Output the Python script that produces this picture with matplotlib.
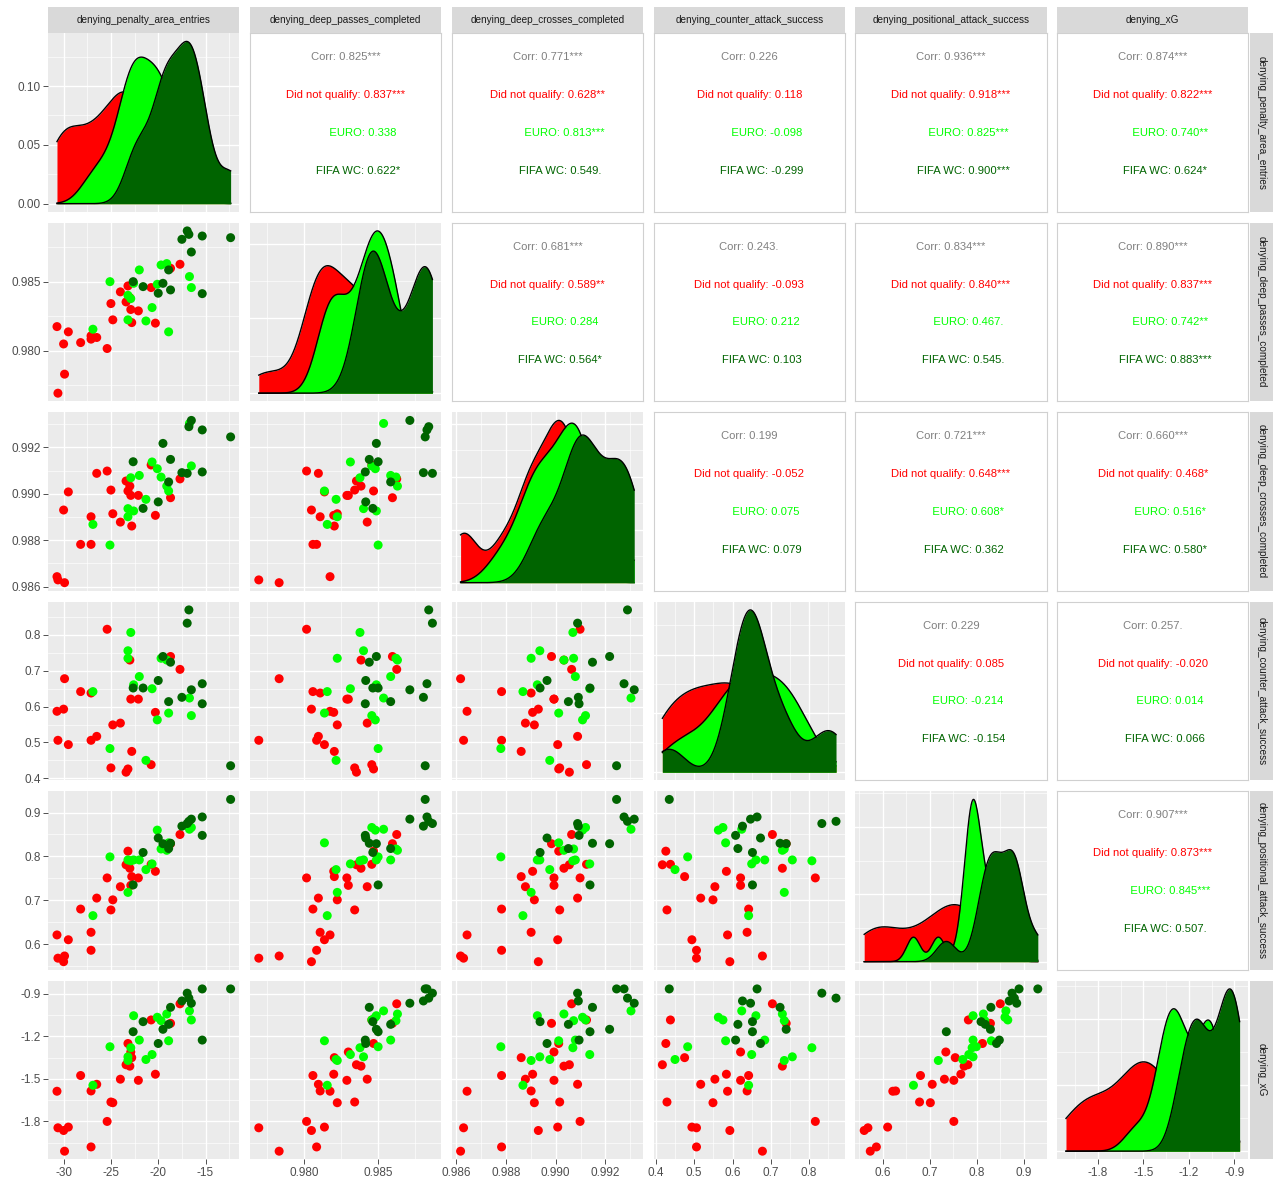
import numpy as np
import matplotlib
matplotlib.use("Agg")
import matplotlib.pyplot as plt
from matplotlib.ticker import MaxNLocator

plt.rcParams['font.family'] = ['Liberation Sans', 'DejaVu Sans']

variables = ['denying_penalty_area_entries', 'denying_deep_passes_completed',
             'denying_deep_crosses_completed', 'denying_counter_attack_success',
             'denying_positional_attack_success', 'denying_xG']
groups = ['Did not qualify', 'EURO', 'FIFA WC']
group_colors = ['#FF0000', '#00FF00', '#006400']

# team group: 0 = did not qualify, 1 = EURO, 2 = FIFA WC
team_group = [0] * 23 + [1] * 15 + [2] * 13

penalty_area_entries = [
    -30.7, -30.6, -30.0, -29.9, -29.5, -28.2, -27.1, -27.1, -26.5, -25.4, -25.0, -24.8,
    -24.0, -23.4, -23.2, -23.0, -22.9, -22.8, -22.1, -20.75, -20.3, -18.7, -17.7,
    -16.5, -16.7, -18.9, -19.1, -19.7, -20.1, -20.65, -21.3, -22.0, -22.6, -22.9,
    -23.2, -23.2, -25.1, -26.9,
    -12.35, -15.35, -15.35, -16.5, -16.76, -16.94, -17.5, -18.7, -18.9, -19.5, -20.0,
    -21.6, -22.65]
deep_passes = [
    .98176, .97693, .9805, .97831, .98138, .98060, .98109, .98085, .98097, .98017, .98343,
    .98225, .98428, .98355, .98471, .98386, .98300, .98205, .98290, .98459, .98201, .98599,
    .98628,
    .98459, .98539, .98138, .98633, .98623, .98483, .98314, .98217, .98587, .98490, .98379,
    .98403, .98225, .98502, .98157,
    .98821, .98833, .98415, .98717, .98845, .98870, .98809, .98442, .98587, .98490, .98418,
    .98466, .98502]
deep_crosses = [
    .98643, .98629, .98930, .98617, .99008, .98782, .98901, .98782, .99088, .99098, .99016,
    .98914, .98878, .99055, .99012, .99033, .98993, .98861, .98993, .99124, .98907, .98983,
    .99064,
    .99120, .99303, .99012, .99033, .99072, .99108, .99137, .98976, .99079, .98926, .99069,
    .98936, .98901, .98779, .98868,
    .99245, .99275, .99094, .99316, .99289, .99088, .99091, .99148, .99051, .99217, .98965,
    .98937, .99138]
counter_attack = [
    .587, .506, .593, .678, .494, .642, .638, .506, .517, .816, .429, .549, .554, .417,
    .426, .730, .621, .475, .621, .438, .584, .740, .704,
    .575, .624, .582, .730, .735, .563, .650, .450, .684, .661, .807, .756, .735, .483, .642,
    .435, .664, .608, .647, .870, .833, .626, .724, .614, .740, .673, .652, .652]
positional_attack = [
    .621, .568, .560, .573, .610, .680, .627, .586, .705, .751, .678, .701, .731, .781,
    .812, .773, .734, .754, .751, .782, .766, .829, .850,
    .866, .862, .831, .814, .817, .860, .783, .770, .792, .792, .790, .792, .718, .799, .665,
    .930, .890, .848, .885, .880, .875, .869, .830, .818, .829, .842, .809, .735]
xg = [
    -1.587, -1.845, -1.864, -2.01, -1.84, -1.476, -1.585, -1.98, -1.538, -1.80, -1.663,
    -1.668, -1.502, -1.40, -1.25, -1.41, -1.31, -1.35, -1.51, -1.084, -1.467, -1.108, -0.97,
    -1.084, -1.02, -1.231, -1.042, -1.089, -1.065, -1.328, -1.363, -1.226, -1.054, -1.28,
    -1.344, -1.37, -1.273, -1.545,
    -0.865, -0.865, -1.226, -0.966, -0.93, -0.895, -0.95, -0.995, -1.115, -1.15, -1.25,
    -1.096, -1.167]

# tick values / labels per variable
tick_values = [[-30, -25, -20, -15], [0.980, 0.985], [0.986, 0.988, 0.990, 0.992],
               [0.4, 0.5, 0.6, 0.7, 0.8], [0.6, 0.7, 0.8, 0.9], [-1.8, -1.5, -1.2, -0.9]]
tick_labels = [['-30', '-25', '-20', '-15'], ['0.980', '0.985'],
               ['0.986', '0.988', '0.990', '0.992'], ['0.4', '0.5', '0.6', '0.7', '0.8'],
               ['0.6', '0.7', '0.8', '0.9'], ['-1.8', '-1.5', '-1.2', '-0.9']]
density_ticks = [0.00, 0.05, 0.10]
density_labels = ['0.00', '0.05', '0.10']

# correlation text, upper triangle in row order
corr_all = ['0.825***', '0.771***', '0.226', '0.936***', '0.874***', '0.681***', '0.243.',
            '0.834***', '0.890***', '0.199', '0.721***', '0.660***', '0.229', '0.257.',
            '0.907***']
corr_dnq = ['0.837***', '0.628**', '0.118', '0.918***', '0.822***', '0.589**', '-0.093',
            '0.840***', '0.837***', '-0.052', '0.648***', '0.468*', '0.085', '-0.020',
            '0.873***']
corr_euro = ['0.338', '0.813***', '-0.098', '0.825***', '0.740**', '0.284', '0.212',
             '0.467.', '0.742**', '0.075', '0.608*', '0.516*', '-0.214', '0.014',
             '0.845***']
corr_wc = ['0.622*', '0.549.', '-0.299', '0.900***', '0.624*', '0.564*', '0.103', '0.545.',
           '0.883***', '0.079', '0.362', '0.580*', '-0.154', '0.066', '0.507.']

data = np.array([penalty_area_entries, deep_passes, deep_crosses, counter_attack,
                 positional_attack, xg])
grp = np.array(team_group)
n_var = len(variables)


def kde(vals, grid):
    vals = np.asarray(vals)
    n = len(vals)
    sd = vals.std(ddof=1)
    q75, q25 = np.percentile(vals, [75, 25])
    bw = 0.9 * min(sd, (q75 - q25) / 1.34) * n ** -0.2
    z = (grid[:, None] - vals[None, :]) / bw
    return np.exp(-0.5 * z ** 2).sum(1) / (n * bw * np.sqrt(2 * np.pi))


def limits(v):
    lo, hi = v.min(), v.max()
    pad = (hi - lo) * 0.05
    return lo - pad, hi + pad


def minor_of(major, lim):
    major = np.asarray(major, dtype=float)
    step = major[1] - major[0]
    mids = np.arange(major[0] - step / 2, major[-1] + step, step)
    return [m for m in mids if lim[0] <= m <= lim[1]]


W, H = 1273, 1180
fig = plt.figure(figsize=(W / 100, H / 100), dpi=100)
col_left = [48.3 + 201.8 * i for i in range(n_var)]
row_top = [33.3 + 189.5 * i for i in range(n_var)]
pw, ph = 191, 178.5

grey_bg = '#EBEBEB'
strip_bg = '#D9D9D9'
tick_col = '#4D4D4D'


def rect(x, y, w, h):
    return [x / W, 1 - (y + h) / H, w / W, h / H]


def style_grid(ax, xmaj, ymaj, xlim, ylim):
    ax.set_facecolor(grey_bg)
    for s in ax.spines.values():
        s.set_visible(False)
    ax.set_xticks(xmaj)
    ax.set_yticks(ymaj)
    ax.set_xticks(minor_of(xmaj, xlim), minor=True)
    ax.set_yticks(minor_of(ymaj, ylim), minor=True)
    ax.grid(which='major', color='white', lw=0.95)
    ax.grid(which='minor', color='white', lw=0.45)
    ax.set_axisbelow(True)
    ax.set_xlim(xlim)
    ax.set_ylim(ylim)
    ax.tick_params(which='both', length=0, labelbottom=False, labelleft=False)


k = 0
for r in range(n_var):
    for c in range(n_var):
        ax = fig.add_axes(rect(col_left[c], row_top[r], pw, ph))
        xlim = limits(data[c])
        if c > r:
            ax.set_facecolor('white')
            for s in ax.spines.values():
                s.set_color('#D0D0D0')
                s.set_linewidth(0.8)
            ax.set_xticks([])
            ax.set_yticks([])
            ax.set_xlim(0, 1)
            ax.set_ylim(0, 1)
            ax.text(0.5, 0.866, 'Corr: ' + corr_all[k], ha='center', va='center',
                    fontsize=8.1, color='#808080')
            lines = [corr_dnq[k], corr_euro[k], corr_wc[k]]
            width = max(len(g) for g in groups)
            for gi, (g, val) in enumerate(zip(groups, lines)):
                ax.text(0.5, 0.654 - 0.2125 * gi, g.rjust(width) + ': ' + val,
                        ha='center', va='center', fontsize=8.1, color=group_colors[gi])
            k += 1
            continue
        if c == r:
            grid = np.linspace(data[c].min(), data[c].max(), 512)
            dens = [kde(data[c][grp == g], grid) for g in range(3)]
            dmax = max(d.max() for d in dens)
            ylim = (-0.05 * dmax, 1.05 * dmax)
            if r == 0:
                ymaj = density_ticks
            else:
                ymaj = [t for t in MaxNLocator(nbins=4, steps=[1, 2, 2.5, 5, 10]).tick_values(0, dmax)
                        if ylim[0] <= t <= ylim[1]]
            style_grid(ax, tick_values[c], ymaj, xlim, ylim)
            for g in range(3):
                ax.fill_between(grid, 0, dens[g], color=group_colors[g], lw=0, zorder=2 + g)
                ax.plot(grid, dens[g], color='black', lw=1.0, zorder=2 + g)
        else:
            ylim = limits(data[r])
            style_grid(ax, tick_values[c], tick_values[r], xlim, ylim)
            for g in range(3):
                m = grp == g
                ax.scatter(data[c][m], data[r][m], s=42, color=group_colors[g],
                           edgecolors='none', zorder=3)
        if r == n_var - 1:
            ax.set_xticks(tick_values[c])
            ax.set_xticklabels(tick_labels[c])
            ax.tick_params(axis='x', which='major', length=3.5, width=0.6, color='#333333',
                           labelbottom=True, labelsize=8.5, labelcolor=tick_col, pad=2)
        if c == 0:
            if r == 0:
                ax.set_yticks(density_ticks)
                ax.set_yticklabels(density_labels)
            else:
                ax.set_yticks(tick_values[r])
                ax.set_yticklabels(tick_labels[r])
            ax.tick_params(axis='y', which='major', length=3.5, width=0.6, color='#333333',
                           labelleft=True, labelsize=8.5, labelcolor=tick_col, pad=2)

# strips
for c in range(n_var):
    sax = fig.add_axes(rect(col_left[c], 6.7, pw, 26.0))
    sax.set_facecolor(strip_bg)
    sax.set_xticks([])
    sax.set_yticks([])
    for s in sax.spines.values():
        s.set_visible(False)
    sax.text(0.5, 0.5, variables[c], ha='center', va='center', fontsize=7.2,
             color='#1A1A1A')
for r in range(n_var):
    sax = fig.add_axes(rect(col_left[-1] + pw + 1.5, row_top[r], 23.5, ph))
    sax.set_facecolor(strip_bg)
    sax.set_xticks([])
    sax.set_yticks([])
    for s in sax.spines.values():
        s.set_visible(False)
    sax.text(0.5, 0.5, variables[r], ha='center', va='center', fontsize=7.2,
             color='#1A1A1A', rotation=-90)

fig.savefig('out.png', dpi=100, facecolor='white')
